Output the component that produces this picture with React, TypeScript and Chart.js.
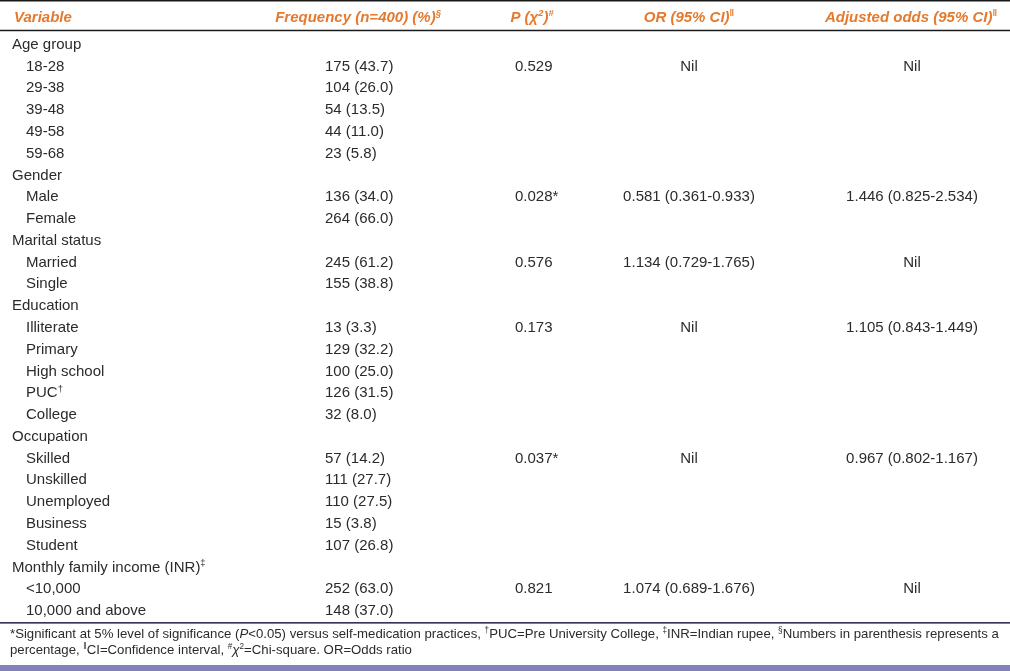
import React, { useEffect, useRef } from "react";
import { Chart, registerables } from "chart.js";

Chart.register(...registerables);

// ---------- data ----------
const categories = [
  "Age group", "18-28", "29-38", "39-48", "49-58", "59-68",
  "Gender", "Male", "Female",
  "Marital status", "Married", "Single",
  "Education", "Illiterate", "Primary", "High school", "PUC", "College",
  "Occupation", "Skilled", "Unskilled", "Unemployed", "Business", "Student",
  "Monthly family income (INR)", "<10,000", "10,000 and above",
];
const labelMarks: Record<string, string> = { PUC: "†", "Monthly family income (INR)": "‡" };
const frequency = [null, 175, 104, 54, 44, 23, null, 136, 264, null, 245, 155, null, 13, 129, 100, 126, 32, null, 57, 111, 110, 15, 107, null, 252, 148];
const percent = [null, 43.7, 26.0, 13.5, 11.0, 5.8, null, 34.0, 66.0, null, 61.2, 38.8, null, 3.3, 32.2, 25.0, 31.5, 8.0, null, 14.2, 27.7, 27.5, 3.8, 26.8, null, 63.0, 37.0];
const pValues: Record<string, string> = { "18-28": "0.529", Male: "0.028*", Married: "0.576", Illiterate: "0.173", Skilled: "0.037*", "<10,000": "0.821" };
const oddsRatios: Record<string, string> = { "18-28": "Nil", Male: "0.581 (0.361-0.933)", Married: "1.134 (0.729-1.765)", Illiterate: "Nil", Skilled: "Nil", "<10,000": "1.074 (0.689-1.676)" };
const adjustedOdds: Record<string, string> = { "18-28": "Nil", Male: "1.446 (0.825-2.534)", Married: "Nil", Illiterate: "1.105 (0.843-1.449)", Skilled: "0.967 (0.802-1.167)", "<10,000": "Nil" };

type Seg = { t: string; sup?: boolean; it?: boolean };
const headers: { segs: Seg[]; col: number; align: CanvasTextAlign }[] = [
  { segs: [{ t: "Variable" }], col: 14, align: "left" },
  { segs: [{ t: "Frequency (n=400) (%)" }, { t: "§", sup: true }], col: 358, align: "center" },
  { segs: [{ t: "P (" }, { t: "χ" }, { t: "2", sup: true }, { t: ")" }, { t: "#", sup: true }], col: 532, align: "center" },
  { segs: [{ t: "OR (95% CI)" }, { t: "‖", sup: true }], col: 689, align: "center" },
  { segs: [{ t: "Adjusted odds (95% CI)" }, { t: "‖", sup: true }], col: 911, align: "center" },
];
const footLine1: Seg[] = [
  { t: "*Significant at 5% level of significance (" }, { t: "P", it: true }, { t: "<0.05) versus self-medication practices, " },
  { t: "†", sup: true }, { t: "PUC=Pre University College, " }, { t: "‡", sup: true }, { t: "INR=Indian rupee, " },
  { t: "§", sup: true }, { t: "Numbers in parenthesis represents a" },
];
const footLine2: Seg[] = [
  { t: "percentage, " }, { t: "‖", sup: true }, { t: "CI=Confidence interval, " }, { t: "#", sup: true },
  { t: "χ", it: true }, { t: "2", sup: true }, { t: "=Chi-square. OR=Odds ratio" },
];

// ---------- layout constants ----------
const FONT = '"Liberation Sans", Arial, sans-serif';
const TEXT = "#2b2b2b";
const ORANGE = "#e5792d";
const COL_GROUP = 12;
const COL_ITEM = 26;
const COL_FREQ = 325;
const COL_P = 515;
const COL_OR = 689;
const COL_ADJ = 912;

function font(size: number, bold: boolean, italic: boolean) {
  return `${italic ? "italic " : ""}${bold ? "bold " : ""}${size}px ${FONT}`;
}

function drawRich(
  ctx: CanvasRenderingContext2D, segs: Seg[], x: number, y: number, align: CanvasTextAlign,
  size: number, color: string, bold: boolean, italic: boolean
) {
  const supSize = size * 0.62;
  let total = 0;
  const widths = segs.map((s) => {
    ctx.font = font(s.sup ? supSize : size, bold, italic || !!s.it);
    const w = ctx.measureText(s.t).width;
    total += w;
    return w;
  });
  let cx = align === "center" ? x - total / 2 : align === "right" ? x - total : x;
  ctx.fillStyle = color;
  ctx.textAlign = "left";
  ctx.textBaseline = "alphabetic";
  segs.forEach((s, i) => {
    ctx.font = font(s.sup ? supSize : size, bold, italic || !!s.it);
    ctx.fillText(s.t, cx, s.sup ? y - size * 0.38 : y);
    cx += widths[i];
  });
}

const tablePlugin = {
  id: "tablePlugin",
  afterDraw(chart: any) {
    const ctx: CanvasRenderingContext2D = chart.ctx;
    const xs = chart.scales.x;
    const ys = chart.scales.y;
    const W = chart.width;
    const H = chart.height;
    ctx.save();
    // top rule
    ctx.fillStyle = "#1a1a1a";
    ctx.fillRect(0, 0, W, 1.5);
    const rowStep = ys.getPixelForValue(1) - ys.getPixelForValue(0);
    const headerY = ys.getPixelForValue(0) - rowStep * 1.25;
    headers.forEach((h) => {
      drawRich(ctx, h.segs, xs.getPixelForValue(h.col), headerY + 5.5, h.align, 15, ORANGE, true, true);
    });
    // header rule
    ctx.fillStyle = "#1a1a1a";
    ctx.fillRect(0, ys.getPixelForValue(0) - rowStep * 0.65, W, 1.5);

    categories.forEach((cat, i) => {
      const y = ys.getPixelForValue(i) + 5;
      const isGroup = frequency[i] === null;
      const segs: Seg[] = [{ t: cat }];
      if (labelMarks[cat]) segs.push({ t: labelMarks[cat], sup: true });
      drawRich(ctx, segs, xs.getPixelForValue(isGroup ? COL_GROUP : COL_ITEM), y, "left", 15, TEXT, false, false);
      if (!isGroup) {
        drawRich(ctx, [{ t: `${frequency[i]} (${(percent[i] as number).toFixed(1)})` }], xs.getPixelForValue(COL_FREQ), y, "left", 15, TEXT, false, false);
      }
      if (pValues[cat]) drawRich(ctx, [{ t: pValues[cat] }], xs.getPixelForValue(COL_P), y, "left", 15, TEXT, false, false);
      if (oddsRatios[cat]) drawRich(ctx, [{ t: oddsRatios[cat] }], xs.getPixelForValue(COL_OR), y, "center", 15, TEXT, false, false);
      if (adjustedOdds[cat]) drawRich(ctx, [{ t: adjustedOdds[cat] }], xs.getPixelForValue(COL_ADJ), y, "center", 15, TEXT, false, false);
    });

    // bottom rule
    const lastY = ys.getPixelForValue(categories.length - 1);
    ctx.fillStyle = "#23234a";
    ctx.fillRect(0, lastY + rowStep * 0.55, W, 1.5);
    // footnotes
    drawRich(ctx, footLine1, 10, lastY + rowStep * 1.05 + 5, "left", 13.2, TEXT, false, false);
    drawRich(ctx, footLine2, 10, lastY + rowStep * 1.8 + 5, "left", 13.2, TEXT, false, false);
    // bottom band
    ctx.fillStyle = "#8282b6";
    ctx.fillRect(0, H - 6, W, 6);
    ctx.restore();
  },
};

export default function App() {
  const ref = useRef<HTMLCanvasElement | null>(null);
  useEffect(() => {
    document.body.style.margin = "0";
    const canvas = ref.current;
    if (!canvas) return;
    const chart = new Chart(canvas, {
      type: "scatter",
      data: {
        datasets: [
          {
            data: categories.map((c) => ({ x: COL_GROUP, y: c })) as any,
            pointRadius: 0,
            pointHoverRadius: 0,
            showLine: false,
          },
        ],
      },
      options: {
        animation: false,
        responsive: false,
        events: [],
        layout: { padding: { top: 33, bottom: 50, left: 0, right: 0 }, autoPadding: false },
        plugins: { legend: { display: false }, tooltip: { enabled: false }, title: { display: false } },
        scales: {
          x: { type: "linear", min: 0, max: 1010, display: false },
          y: { type: "category", labels: categories, offset: true, display: false },
        },
      },
      plugins: [tablePlugin],
    });
    return () => chart.destroy();
  }, []);
  return (
    <div style={{ position: "absolute", left: 0, top: 0, width: 1010, height: 671, background: "#fff" }}>
      <canvas ref={ref} width={1010} height={671} />
    </div>
  );
}
